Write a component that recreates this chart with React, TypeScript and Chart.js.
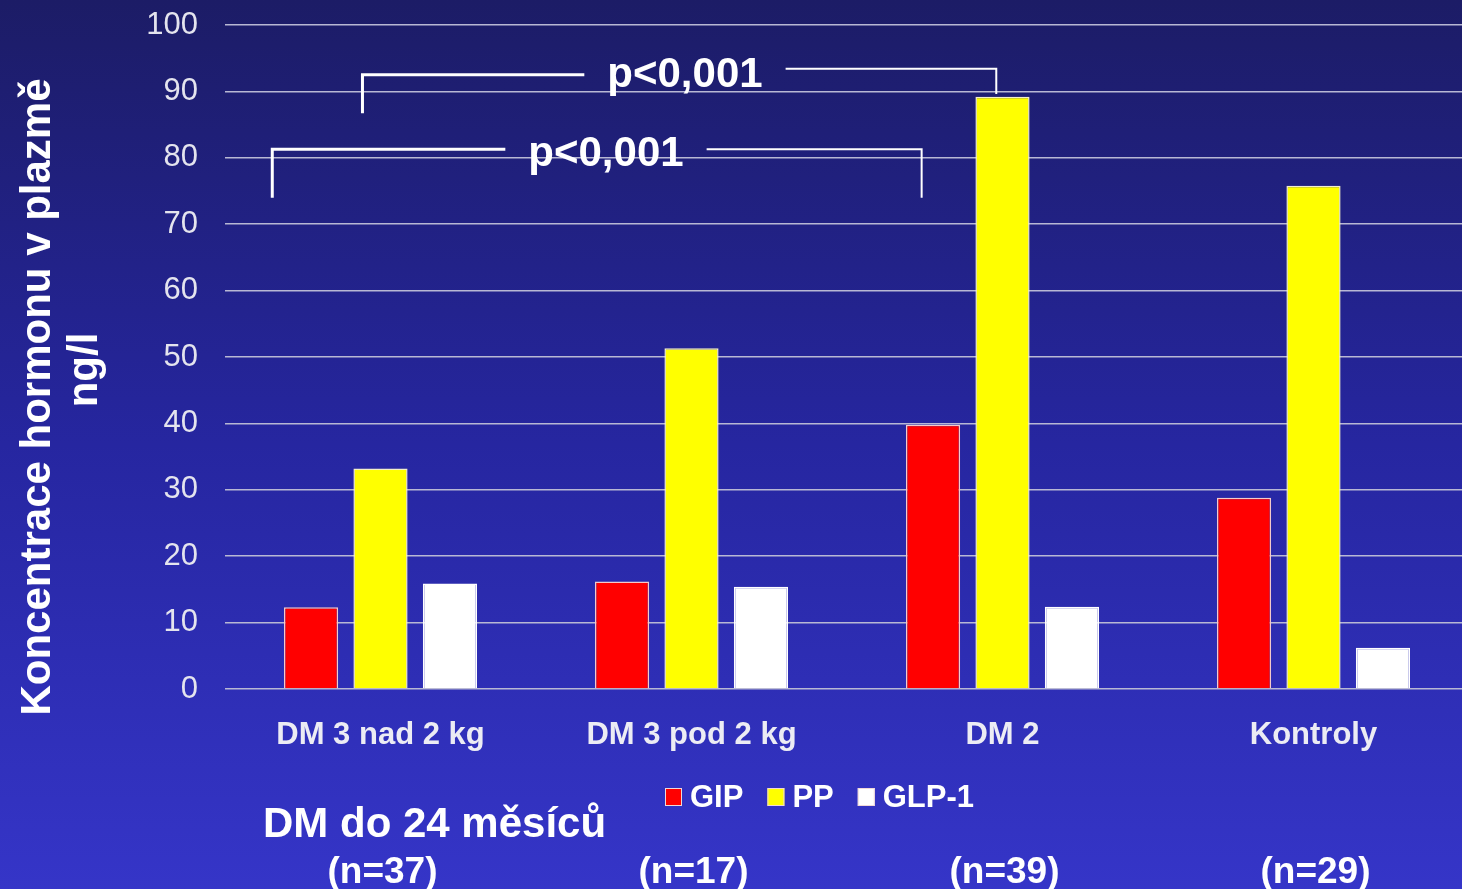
import React, { useEffect, useRef } from "react";
import { Chart, registerables } from "chart.js";

Chart.register(...registerables);

const categories = ["DM 3 nad 2 kg", "DM 3 pod 2 kg", "DM 2", "Kontroly"];
const gipValues = [12.3, 16.2, 39.8, 28.8];
const ppValues = [33.2, 51.3, 89.2, 75.8];
const glpValues = [15.9, 15.4, 12.4, 6.2];
const groupCounts = ["(n=37)", "(n=17)", "(n=39)", "(n=29)"];
const seriesNames = ["GIP", "PP", "GLP-1"];
const seriesColors = ["#ff0000", "#ffff00", "#ffffff"];
const yTitleLines = ["Koncentrace hormonu v plazmě", "ng/l"];
const subtitle = "DM do 24 měsíců";
const pLabel = "p<0,001";

const FONT = "'Liberation Sans', Arial, sans-serif";

// bracket geometry: x in category index units, y in data units
const brackets = [
  { left: -0.058, right: 1.98, leftBottom: 86.7, rightBottom: 89.6, leftTop: 92.5, rightTop: 93.4, textX: 0.979, textY: 90.7 },
  { left: -0.348, right: 1.74, leftBottom: 74.0, rightBottom: 74.0, leftTop: 81.3, rightTop: 81.3, textX: 0.725, textY: 78.8 },
];

const decorPlugin = {
  id: "decor",
  beforeDraw(chart: any) {
    const { ctx, width, height } = chart;
    const g = ctx.createLinearGradient(0, 0, 0, height);
    g.addColorStop(0, "#1c1c66");
    g.addColorStop(0.5, "#2626a0");
    g.addColorStop(1, "#3535c8");
    ctx.save();
    ctx.fillStyle = g;
    ctx.fillRect(0, 0, width, height);
    ctx.restore();
  },
  afterDraw(chart: any) {
    const { ctx } = chart;
    const x = chart.scales.x;
    const y = chart.scales.y;
    ctx.save();
    ctx.fillStyle = "#ffffff";
    ctx.strokeStyle = "#ffffff";

    // brackets
    ctx.font = `bold 42px ${FONT}`;
    brackets.forEach((b) => {
      const xl = x.getPixelForValue(b.left);
      const xr = x.getPixelForValue(b.right);
      const ylb = y.getPixelForValue(b.leftBottom);
      const yrb = y.getPixelForValue(b.rightBottom);
      const ylt = y.getPixelForValue(b.leftTop);
      const yrt = y.getPixelForValue(b.rightTop);
      const tx = x.getPixelForValue(b.textX);
      const ty = y.getPixelForValue(b.textY);
      const tw = ctx.measureText(pLabel).width;
      const gap = 23;
      ctx.lineWidth = 3;
      ctx.beginPath();
      ctx.moveTo(xl, ylb);
      ctx.lineTo(xl, ylt);
      ctx.lineTo(tx - tw / 2 - gap, ylt);
      ctx.stroke();
      ctx.lineWidth = 2;
      ctx.beginPath();
      ctx.moveTo(tx + tw / 2 + gap, yrt);
      ctx.lineTo(xr, yrt);
      ctx.lineTo(xr, yrb);
      ctx.stroke();
      ctx.textAlign = "center";
      ctx.textBaseline = "alphabetic";
      ctx.fillText(pLabel, tx, ty);
    });

    // legend
    ctx.font = `bold 31px ${FONT}`;
    ctx.textAlign = "left";
    ctx.textBaseline = "middle";
    let lx = 665;
    const ly = 797;
    chart.data.datasets.forEach((ds: any) => {
      ctx.fillStyle = ds.backgroundColor;
      ctx.fillRect(lx, ly - 9, 17, 18);
      ctx.lineWidth = 1;
      ctx.strokeStyle = "#f0d8d8";
      ctx.strokeRect(lx + 0.5, ly - 8.5, 16, 17);
      ctx.fillStyle = "#ffffff";
      ctx.fillText(ds.label, lx + 25, ly + 1);
      lx += 25 + ctx.measureText(ds.label).width + 24;
    });

    // subtitle
    ctx.font = `bold 42px ${FONT}`;
    ctx.textBaseline = "alphabetic";
    ctx.textAlign = "left";
    ctx.fillText(subtitle, 263, 837);

    // group counts
    ctx.font = `bold 37px ${FONT}`;
    ctx.textAlign = "center";
    groupCounts.forEach((t, i) => {
      ctx.fillText(t, x.getPixelForValue(i) + 2, 883);
    });

    // y title
    ctx.font = `bold 42px ${FONT}`;
    ctx.textAlign = "center";
    ctx.textBaseline = "alphabetic";
    ctx.save();
    ctx.translate(50, 397);
    ctx.rotate(-Math.PI / 2);
    ctx.fillText(yTitleLines[0], 0, 0);
    ctx.restore();
    ctx.save();
    ctx.translate(97, 370);
    ctx.rotate(-Math.PI / 2);
    ctx.fillText(yTitleLines[1], 0, 0);
    ctx.restore();

    ctx.restore();
  },
};

export default function App() {
  const ref = useRef<HTMLCanvasElement>(null);
  useEffect(() => {
    if (!ref.current) return;
    const values = [gipValues, ppValues, glpValues];
    const chart = new Chart(ref.current, {
      type: "bar",
      data: {
        labels: categories,
        datasets: values.map((v, i) => ({
          label: seriesNames[i],
          data: v,
          backgroundColor: seriesColors[i],
          borderColor: i === 0 ? "#f4caca" : i === 1 ? "#f4f0c8" : "#ffffff",
          borderWidth: 1.5,
          categoryPercentage: 0.67,
          barPercentage: 0.78,
        })),
      },
      options: {
        animation: false,
        responsive: true,
        maintainAspectRatio: false,
        layout: { padding: { top: 25, right: 1, left: 0, bottom: 0 } },
        plugins: {
          legend: { display: false },
          tooltip: { enabled: false },
          title: { display: false },
        },
        scales: {
          x: {
            grid: { display: false, drawTicks: false },
            border: { display: false },
            ticks: {
              color: "#ececf4",
              font: { family: FONT, size: 31, weight: "bold" },
              padding: 28,
              maxRotation: 0,
              autoSkip: false,
            },
            afterFit: (s: any) => {
              s.height = 200;
              s.paddingLeft = 0;
              s.paddingRight = 0;
            },
          },
          y: {
            min: 0,
            max: 100,
            grid: { color: "#b8b8d4", lineWidth: 1.5, drawTicks: false },
            border: { display: false },
            ticks: {
              stepSize: 10,
              color: "#e4e4ee",
              font: { family: FONT, size: 31 },
              padding: 27,
            },
            afterFit: (s: any) => {
              s.width = 225;
              s.paddingTop = 0;
              s.paddingBottom = 0;
            },
          },
        },
      },
      plugins: [decorPlugin],
    });
    return () => chart.destroy();
  }, []);
  return (
    <div style={{ position: "fixed", left: 0, top: 0, width: 1470, height: 889 }}>
      <canvas ref={ref} />
    </div>
  );
}
